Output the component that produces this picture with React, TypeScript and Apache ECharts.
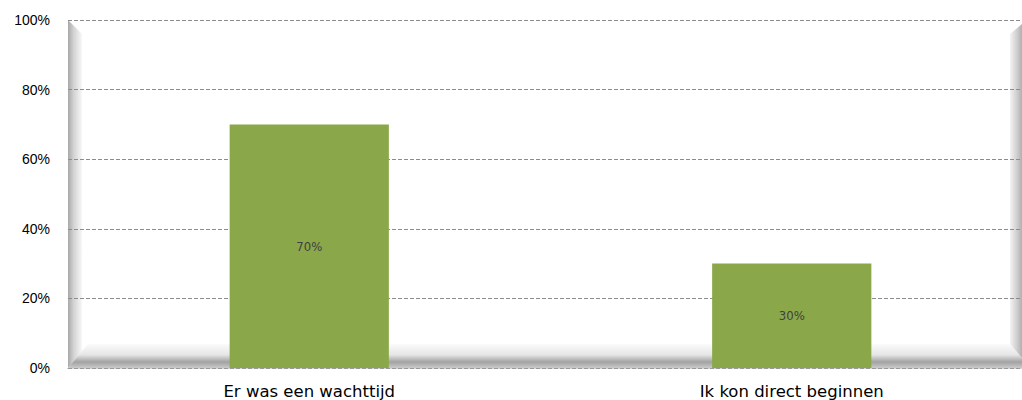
import React, { useEffect, useRef } from "react";
import * as echarts from "echarts";

const categories = ["Er was een wachttijd", "Ik kon direct beginnen"];
const values = [70, 30];
const yTicks = [0, 20, 40, 60, 80, 100];

export default function App() {
  const ref = useRef<HTMLDivElement>(null);
  useEffect(() => {
    if (!ref.current) return;
    const chart = echarts.init(ref.current, null, { renderer: "svg" });
    const lg = (x1: number, y1: number, x2: number, y2: number, stops: [number, string][]) =>
      new echarts.graphic.LinearGradient(x1, y1, x2, y2, stops.map(([offset, color]) => ({ offset, color })));
    chart.setOption({
      animation: false,
      grid: { left: 68, top: 20, bottom: 32, right: 8 },
      xAxis: {
        type: "category",
        data: categories,
        axisLine: { show: true, lineStyle: { color: "#999", type: "dashed", width: 1 } },
        axisTick: { show: false },
        axisLabel: { color: "#000", fontFamily: "DejaVu Sans", fontSize: 16.5, margin: 15 },
        z: 3,
      },
      yAxis: {
        type: "value",
        min: 0,
        max: 100,
        interval: 20,
        axisLine: { show: false },
        axisTick: { show: false },
        axisLabel: {
          color: "#000",
          fontFamily: "Liberation Sans",
          fontSize: 14,
          margin: 18,
          formatter: (v: number) => (yTicks.includes(v) ? v + "%" : ""),
        },
        splitLine: { show: true, lineStyle: { color: "#8c8c8c", type: "dashed", width: 1 } },
      },
      graphic: [
        {
          type: "polygon",
          z: -1,
          shape: { points: [[68, 20], [82, 34], [82, 352], [68, 368]] },
          style: { fill: lg(0, 0, 1, 0, [[0, "#a8a8a8"], [0.4, "#d2d2d2"], [1, "#f8f8f8"]]) },
        },
        {
          type: "polygon",
          z: -1,
          shape: { points: [[68, 368], [88, 344], [1010, 344], [1022, 358], [1022, 368]] },
          style: { fill: lg(0, 0, 0, 1, [[0, "#fbfbfb"], [0.45, "#e6e6e6"], [0.75, "#a2a2a2"], [1, "#cacaca"]]) },
        },
        {
          type: "polygon",
          z: -1,
          shape: { points: [[1010, 34], [1022, 24], [1022, 358], [1010, 344]] },
          style: { fill: lg(0, 0, 1, 0, [[0, "#f4f4f4"], [0.6, "#cdcdcd"], [1, "#b0b0b0"]]) },
        },
      ],
      series: [
        {
          type: "bar",
          data: values,
          barWidth: "33%",
          itemStyle: { color: "#8aa84a" },
          label: {
            show: true,
            position: "inside",
            formatter: "{c}%",
            color: "#404040",
            fontFamily: "DejaVu Sans Condensed",
            fontSize: 13,
          },
        },
      ],
    });
    return () => chart.dispose();
  }, []);
  return (
    <div style={{ position: "fixed", left: 0, top: 0, width: 1022, height: 400, overflow: "hidden", background: "#fff" }}>
      <div ref={ref} style={{ width: 1041, height: 400 }} />
    </div>
  );
}
